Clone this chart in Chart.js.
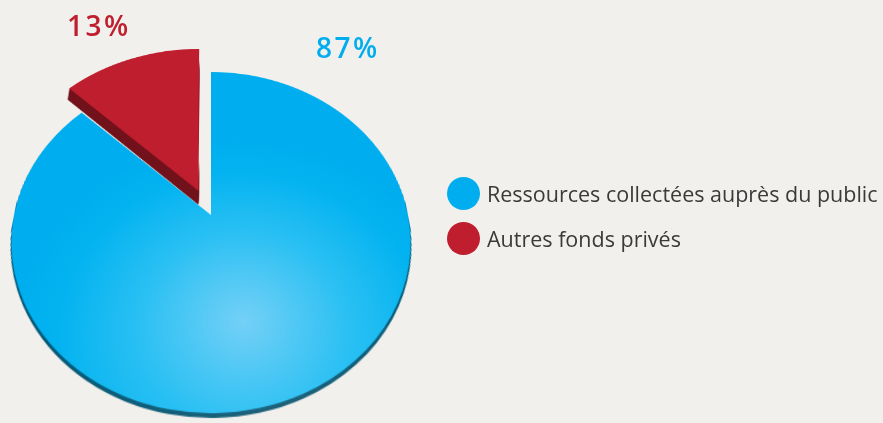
<!DOCTYPE html>
<html>
<head>
<meta charset="utf-8">
<script src="https://cdn.jsdelivr.net/npm/chart.js@4"></script>
<style>
  html, body { margin: 0; padding: 0; }
  body { width: 883px; height: 423px; overflow: hidden; position: relative; background: #f1f0ec; font-family: "Open Sans", "Noto Sans", sans-serif; }
  #pieWrap { position: absolute; left: -39px; top: -35px; width: 500px; height: 500px; }
  #pie { transform-origin: 250px 250px; transform: perspective(655px) rotateX(32.5deg); }
  .pct { position: absolute; font-size: 28px; font-weight: 600; line-height: 1; white-space: nowrap; letter-spacing: 2.5px; }
  #legend { position: absolute; left: 447px; top: 177px; }
  .item { display: flex; align-items: center; height: 33px; margin-bottom: 12px; }
  .dot { width: 33px; height: 33px; border-radius: 50%; margin-right: 7px; flex: none; }
  .txt { font-size: 21.5px; color: #3a3a3a; white-space: nowrap; }
</style>
</head>
<body>
<div id="pieWrap"><canvas id="pie" width="500" height="500"></canvas></div>
<div class="pct" id="lab1" style="left:67px; top:11px;"></div>
<div class="pct" id="lab0" style="left:316px; top:33px;"></div>
<div id="legend"></div>
<script>
const categories = ["Ressources collectées auprès du public", "Autres fonds privés"];
const shares = [87, 13];
const percentLabels = ["87%", "13%"];
const colors = ["#00aeef", "#be1e2d"];

// percentage labels and legend as real text
document.getElementById('lab0').textContent = percentLabels[0];
document.getElementById('lab0').style.color = colors[0];
document.getElementById('lab1').textContent = percentLabels[1];
document.getElementById('lab1').style.color = colors[1];
const legend = document.getElementById('legend');
categories.forEach((c, i) => {
  const it = document.createElement('div'); it.className = 'item';
  const d = document.createElement('div'); d.className = 'dot'; d.style.background = colors[i];
  const t = document.createElement('div'); t.className = 'txt'; t.textContent = c;
  it.appendChild(d); it.appendChild(t); legend.appendChild(it);
});

const sideDepth = [4, 17];
const depthPlugin = {
  id: 'depth',
  beforeDatasetsDraw(chart) {
    const ctx = chart.ctx;
    const meta = chart.getDatasetMeta(0);
    meta.data.forEach((arc, i) => {
      for (let t = sideDepth[i]; t >= 1; t--) {
        ctx.save();
        ctx.translate(0, t);
        ctx.filter = i === 0 ? 'brightness(0.5)' : 'brightness(0.6)';
        arc.draw(ctx);
        ctx.restore();
      }
    });
  }
};

new Chart(document.getElementById('pie'), {
  type: 'pie',
  data: {
    labels: categories,
    datasets: [{
      data: shares,
      backgroundColor: (c) => {
        const chart = c.chart, area = chart.chartArea;
        if (c.dataIndex !== 0 || !area) return colors[c.dataIndex];
        const cx = (area.left + area.right) / 2, cy = (area.top + area.bottom) / 2;
        const g = chart.ctx.createRadialGradient(cx + 30, cy + 115, 0, cx + 30, cy + 115, 210);
        g.addColorStop(0, '#74d0f6');
        g.addColorStop(0.45, '#2ac0f3');
        g.addColorStop(0.8, '#03b3f0');
        g.addColorStop(1, '#00aeef');
        return g;
      },
      borderWidth: 0,
      offset: [0, 128],
      radius: 197
    }]
  },
  options: {
    responsive: false,
    animation: false,
    layout: { padding: 0 },
    plugins: { legend: { display: false }, tooltip: { enabled: false } }
  },
  plugins: [depthPlugin]
});
</script>
</body>
</html>
